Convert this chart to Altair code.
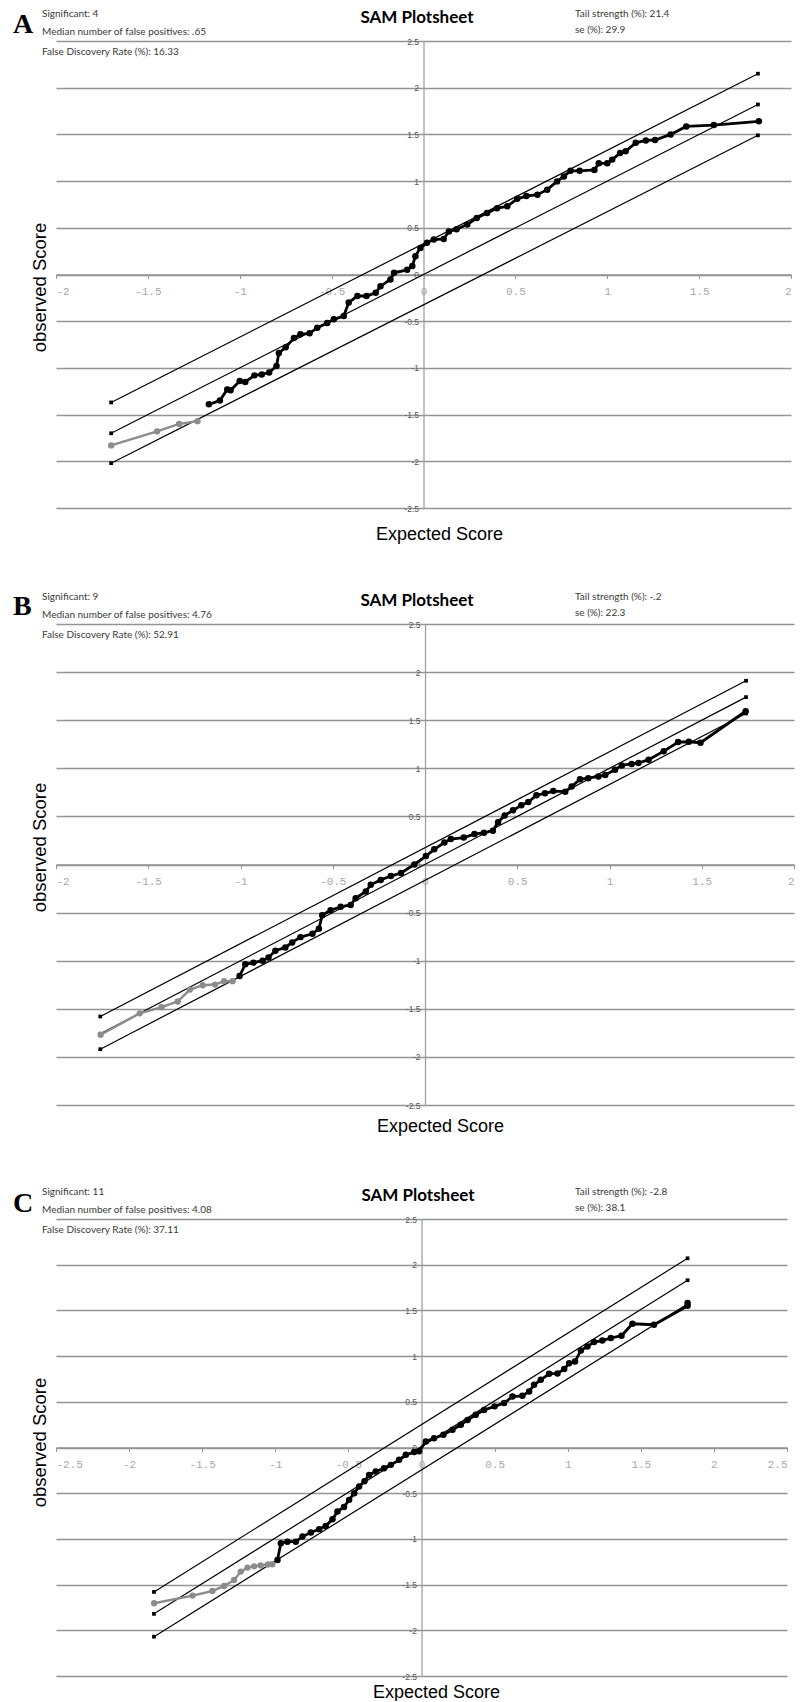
import altair as alt
import pandas as pd

# ---------------- Panel A ----------------
A_left_text = ["Significant: 4", "Median number of false positives: .65", "False Discovery Rate (%): 16.33"]
A_right_text = ["Tail strength (%): 21.4", "se (%): 29.9"]
A_xdom = [-2, 2]
A_xticks = [-2, -1.5, -1, -0.5, 0, 0.5, 1, 1.5, 2]
A_band_x = [-1.70, 1.82]
A_upper_y = [-1.37, 2.15]
A_mid_y = [-1.70, 1.82]
A_lower_y = [-2.02, 1.49]
A_gray_x = [-1.70, -1.45, -1.33, -1.23]
A_gray_y = [-1.83, -1.68, -1.60, -1.57]
A_black_x = [-1.168, -1.108, -1.068, -1.05, -1.0, -0.97, -0.92, -0.88, -0.84, -0.80, -0.787, -0.75,
             -0.705, -0.67, -0.62, -0.578, -0.524, -0.488, -0.434, -0.407, -0.36, -0.31, -0.26, -0.234,
             -0.18, -0.16, -0.089, -0.061, -0.044, -0.017, 0.019, 0.056, 0.11, 0.138, 0.18, 0.238,
             0.29, 0.346, 0.40, 0.456, 0.51, 0.56, 0.62, 0.673, 0.727, 0.764, 0.80, 0.85, 0.93, 0.954,
             1.0, 1.027, 1.07, 1.10, 1.155, 1.21, 1.26, 1.345, 1.43, 1.58, 1.825]
A_black_y = [-1.39, -1.35, -1.23, -1.24, -1.14, -1.15, -1.08, -1.07, -1.05, -0.98, -0.84, -0.78,
             -0.68, -0.64, -0.63, -0.57, -0.52, -0.48, -0.445, -0.30, -0.23, -0.23, -0.196, -0.125,
             -0.053, 0.018, 0.05, 0.09, 0.196, 0.285, 0.339, 0.374, 0.38, 0.46, 0.485, 0.534,
             0.605, 0.659, 0.71, 0.73, 0.81, 0.84, 0.855, 0.908, 0.997, 1.05, 1.11, 1.11, 1.12, 1.19,
             1.19, 1.23, 1.30, 1.32, 1.41, 1.435, 1.44, 1.50, 1.585, 1.60, 1.64]

# ---------------- Panel B ----------------
B_left_text = ["Significant: 9", "Median number of false positives: 4.76", "False Discovery Rate (%): 52.91"]
B_right_text = ["Tail strength (%): -.2", "se (%): 22.3"]
B_xdom = [-2, 2]
B_xticks = [-2, -1.5, -1, -0.5, 0, 0.5, 1, 1.5, 2]
B_band_x = [-1.76, 1.74]
B_upper_y = [-1.58, 1.91]
B_mid_y = [-1.76, 1.74]
B_lower_y = [-1.92, 1.57]
B_gray_x = [-1.758, -1.546, -1.428, -1.34, -1.274, -1.205, -1.138, -1.089, -1.043]
B_gray_y = [-1.77, -1.547, -1.483, -1.424, -1.30, -1.255, -1.248, -1.213, -1.213]
B_black_x = [-1.005, -0.974, -0.93, -0.88, -0.848, -0.811, -0.757, -0.72, -0.675, -0.61, -0.575, -0.557,
             -0.512, -0.457, -0.403, -0.376, -0.321, -0.294, -0.24, -0.185, -0.13, -0.058, 0.005, 0.05,
             0.105, 0.14, 0.21, 0.268, 0.32, 0.368, 0.396, 0.432, 0.477, 0.522, 0.56, 0.604, 0.65,
             0.695, 0.76, 0.795, 0.84, 0.885, 0.94, 0.977, 1.03, 1.067, 1.12, 1.157, 1.212, 1.294,
             1.372, 1.43, 1.493, 1.738]
B_black_y = [-1.16, -1.037, -1.02, -1.00, -0.966, -0.897, -0.862, -0.81, -0.755, -0.72, -0.668, -0.527,
             -0.475, -0.44, -0.42, -0.351, -0.281, -0.211, -0.16, -0.12, -0.088, 0.0, 0.088, 0.158,
             0.229, 0.264, 0.28, 0.316, 0.33, 0.352, 0.44, 0.51, 0.563, 0.616, 0.65, 0.72, 0.74,
             0.763, 0.757, 0.81, 0.886, 0.897, 0.915, 0.93, 0.985, 1.03, 1.045, 1.055, 1.09, 1.178,
             1.273, 1.276, 1.266, 1.593]

# ---------------- Panel C ----------------
C_left_text = ["Significant: 11", "Median number of false positives: 4.08", "False Discovery Rate (%): 37.11"]
C_right_text = ["Tail strength (%): -2.8", "se (%): 38.1"]
C_xdom = [-2.5, 2.5]
C_xticks = [-2.5, -2, -1.5, -1, -0.5, 0, 0.5, 1, 1.5, 2, 2.5]
C_band_x = [-1.83, 1.82]
C_upper_y = [-1.58, 2.07]
C_mid_y = [-1.82, 1.83]
C_lower_y = [-2.07, 1.57]
C_gray_x = [-1.829, -1.566, -1.43, -1.35, -1.282, -1.236, -1.19, -1.145, -1.10, -1.05, -1.02]
C_gray_y = [-1.704, -1.62, -1.57, -1.515, -1.45, -1.358, -1.314, -1.30, -1.29, -1.28, -1.277]
C_black_x = [-0.985, -0.962, -0.917, -0.86, -0.814, -0.757, -0.70, -0.655, -0.609, -0.575, -0.53, -0.495,
             -0.46, -0.427, -0.39, -0.358, -0.313, -0.256, -0.21, -0.153, -0.107, -0.05, -0.016, 0.03,
             0.086, 0.15, 0.212, 0.269, 0.315, 0.371, 0.428, 0.50, 0.565, 0.622, 0.69, 0.736, 0.77,
             0.816, 0.873, 0.93, 0.976, 1.01, 1.05, 1.09, 1.135, 1.18, 1.237, 1.295, 1.368, 1.443,
             1.59, 1.82, 1.82]
C_black_y = [-1.23, -1.047, -1.03, -1.03, -0.975, -0.93, -0.894, -0.86, -0.785, -0.70, -0.65, -0.573,
             -0.50, -0.427, -0.37, -0.30, -0.263, -0.227, -0.19, -0.135, -0.08, -0.05, -0.04, 0.066,
             0.1, 0.14, 0.194, 0.249, 0.30, 0.358, 0.41, 0.45, 0.486, 0.558, 0.565, 0.613, 0.686,
             0.74, 0.806, 0.81, 0.858, 0.923, 0.94, 1.062, 1.106, 1.154, 1.17, 1.198, 1.223, 1.354,
             1.343, 1.55, 1.58]

Y_TICKS = [-2.5, -2, -1.5, -1, -0.5, 0, 0.5, 1, 1.5, 2, 2.5]

SMALL_FONT = "Lato"
AXIS_TITLE_FONT = "Liberation Sans"
ONE = alt.InlineData(values=[{"k": 0}])


def txt(s, x, y, size, font=SMALL_FONT, weight="normal", align="left", color="#3a3a3a"):
    return alt.Chart(ONE).mark_text(
        text=s, font=font, fontSize=size, fontWeight=weight, align=align,
        baseline="alphabetic", color=color
    ).encode(x=alt.value(x), y=alt.value(y))


def panel(letter, left_text, right_text, xdom, xticks, band_x, up, mid, lo,
          gx, gy, bx, by, w, h, xt_x, xt_y, yt_y, bottom_pin, title_x, letter_y):
    xs = alt.Scale(domain=xdom, nice=False, zero=False)
    ys = alt.Scale(domain=[-2.5, 2.5], nice=False, zero=False)

    band_df = pd.DataFrame({
        "x": band_x * 3,
        "y": up + mid + lo,
        "line": ["upper"] * 2 + ["mid"] * 2 + ["lower"] * 2,
    })
    gray_df = pd.DataFrame({"x": gx, "y": gy})
    black_df = pd.DataFrame({"x": bx, "y": by})

    grid_x_axis = alt.Axis(
        orient="bottom", grid=False, labels=False, ticks=False, domain=False,
        title="Expected Score", titleX=xt_x, titleY=xt_y, titleAlign="center",
        titleBaseline="alphabetic", titleFont=AXIS_TITLE_FONT, titleFontSize=18,
        titleFontWeight="normal", titleColor="#000000", minExtent=0)
    grid_y_axis = alt.Axis(
        orient="left", grid=True, values=Y_TICKS, gridColor="#939393", gridWidth=1.6,
        labels=False, ticks=False, domain=False,
        title="observed Score", titleX=-11, titleY=yt_y, titleAngle=270,
        titleAlign="center", titleBaseline="alphabetic", titleFont=AXIS_TITLE_FONT,
        titleFontSize=18.5, titleFontWeight="normal", titleColor="#000000", minExtent=0)

    bands = alt.Chart(band_df).mark_line(color="black", strokeWidth=1.2).encode(
        x=alt.X("x:Q", scale=xs, axis=grid_x_axis),
        y=alt.Y("y:Q", scale=ys, axis=grid_y_axis),
        detail="line:N",
    )
    ends = alt.Chart(band_df).mark_square(color="black", size=14, opacity=1).encode(
        x=alt.X("x:Q", scale=xs, axis=None),
        y=alt.Y("y:Q", scale=ys, axis=None),
    )

    center_x_axis = alt.Axis(
        orient="bottom", offset=-h / 2, values=xticks, grid=False,
        domain=True, domainColor="#939393", domainWidth=1.4,
        ticks=True, tickColor="#939393", tickSize=4,
        labelFont="Liberation Mono", labelFontSize=11, labelColor="#a8a8a8",
        labelPadding=7, labelExpr="'' + datum.value", title=None)
    center_y_axis = alt.Axis(
        orient="left", offset=-w / 2, values=Y_TICKS, grid=False,
        domain=True, domainColor="#9a9a9a", domainWidth=1.2,
        ticks=True, tickColor="#9a9a9a", tickSize=3,
        labelFont="Liberation Sans", labelFontSize=8.5, labelColor="#555555",
        labelPadding=2, labelExpr="'' + datum.value", title=None)

    gray_line = alt.Chart(gray_df).mark_line(color="#8c8c8c", strokeWidth=2.4).encode(
        x=alt.X("x:Q", scale=xs, axis=center_x_axis),
        y=alt.Y("y:Q", scale=ys, axis=center_y_axis),
    )
    gray_pts = alt.Chart(gray_df).mark_circle(color="#8c8c8c", size=40, opacity=1).encode(
        x=alt.X("x:Q", scale=xs, axis=None),
        y=alt.Y("y:Q", scale=ys, axis=None),
    )
    black_line = alt.Chart(black_df).mark_line(color="black", strokeWidth=2.8).encode(
        x=alt.X("x:Q", scale=xs, axis=None),
        y=alt.Y("y:Q", scale=ys, axis=None),
    )
    black_pts = alt.Chart(black_df).mark_circle(color="black", size=42, opacity=1).encode(
        x=alt.X("x:Q", scale=xs, axis=None),
        y=alt.Y("y:Q", scale=ys, axis=None),
    )

    pin = alt.Chart(ONE).mark_rule(opacity=0, strokeWidth=0).encode(
        x=alt.value(-48), y=alt.value(-33), y2=alt.value(h + bottom_pin))

    texts = [
        txt(letter, -43, letter_y, 28, font="Liberation Serif", weight="bold", color="#000000"),
        txt(left_text[0], -14, -24, 10),
        txt(left_text[1], -14, -6, 10),
        txt(left_text[2], -14, 14, 10),
        txt("SAM Plotsheet", title_x, -18, 17, weight="bold", align="center", color="#000000"),
        txt(right_text[0], 519, -24, 10),
        txt(right_text[1], 519, -8, 10),
    ]

    return alt.layer(
        bands, ends, gray_line, gray_pts, black_line, black_pts, pin, *texts
    ).resolve_axis(x="independent", y="independent").properties(width=w, height=h)


pA = panel("A", A_left_text, A_right_text, A_xdom, A_xticks, A_band_x, A_upper_y, A_mid_y, A_lower_y,
           A_gray_x, A_gray_y, A_black_x, A_black_y, 735, 467, 383, 31, 246, 40, 361, -8)
pB = panel("B", B_left_text, B_right_text, B_xdom, B_xticks, B_band_x, B_upper_y, B_mid_y, B_lower_y,
           B_gray_x, B_gray_y, B_black_x, B_black_y, 738, 481, 384, 26, 223, 38, 361, -9)
pC = panel("C", C_left_text, C_right_text, C_xdom, C_xticks, C_band_x, C_upper_y, C_mid_y, C_lower_y,
           C_gray_x, C_gray_y, C_black_x, C_black_y, 731, 457, 380, 21, 223, 22, 362, -7)

chart = alt.vconcat(pA, pB, pC, spacing=43).properties(
    padding=0, background="white"
).configure_view(stroke=None)

chart.save("out.html", embed_options={"renderer": "svg", "actions": False})
